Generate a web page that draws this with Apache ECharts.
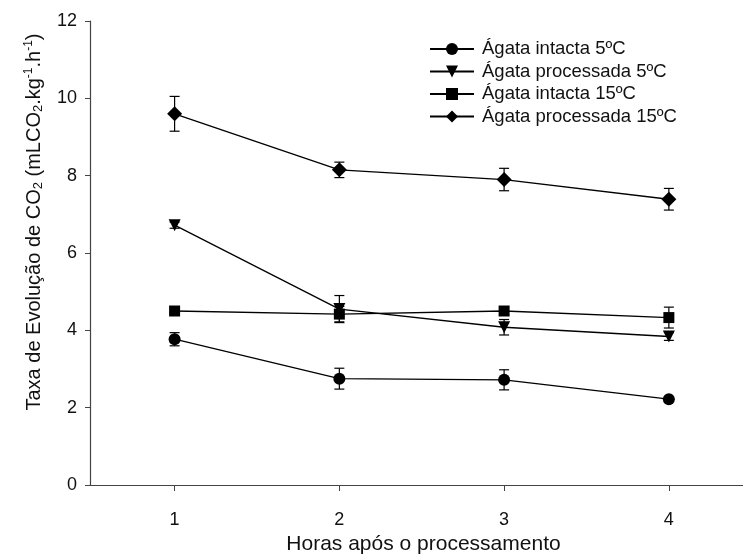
<!DOCTYPE html>
<html>
<head>
<meta charset="utf-8">
<script src="https://cdn.jsdelivr.net/npm/echarts@6/dist/echarts.min.js"></script>
<style>html,body{margin:0;padding:0;background:#fff}#c{width:743px;height:554px}</style>
</head>
<body>
<div id="c"></div>
<script>
const hours = [1, 2, 3, 4];
const xTicks = [1, 2, 3, 4];
const yTicks = [0, 2, 4, 6, 8, 10, 12];
const seriesNames = ['Ágata intacta 5ºC', 'Ágata processada 5ºC', 'Ágata intacta 15ºC', 'Ágata processada 15ºC'];
const intacta5 = [3.77, 2.75, 2.72, 2.22];
const intacta5Err = [0.17, 0.27, 0.26, 0.05];
const processada5 = [6.72, 4.55, 4.08, 3.84];
const processada5Err = [0.08, 0.35, 0.2, 0.1];
const intacta15 = [4.5, 4.42, 4.5, 4.33];
const intacta15Err = [0.05, 0.2, 0.1, 0.27];
const processada15 = [9.6, 8.15, 7.9, 7.39];
const processada15Err = [0.45, 0.2, 0.29, 0.28];

const values = [intacta5, processada5, intacta15, processada15];
const errors = [intacta5Err, processada5Err, intacta15Err, processada15Err];
const symbols = ['circle', 'triangle', 'rect', 'diamond'];
const symbolSizes = [12, 12, 11, 15];
const symbolRot = [0, 180, 0, 0];
const FONT = '"Liberation Sans", Arial, sans-serif';

const chart = echarts.init(document.getElementById('c'), null, {renderer: 'canvas'});

const series = [];
values.forEach((vals, i) => {
  series.push({
    type: 'custom',
    name: seriesNames[i] + ' err',
    silent: true,
    z: 1,
    data: hours.map((h, k) => [h, vals[k] - errors[i][k], vals[k] + errors[i][k]]),
    renderItem: function (params, api) {
      const lo = api.coord([api.value(0), api.value(1)]);
      const hi = api.coord([api.value(0), api.value(2)]);
      const w = 5;
      const st = {stroke: '#000', lineWidth: 1.2};
      return {
        type: 'group',
        children: [
          {type: 'line', shape: {x1: lo[0], y1: lo[1], x2: hi[0], y2: hi[1]}, style: st},
          {type: 'line', shape: {x1: lo[0] - w, y1: lo[1], x2: lo[0] + w, y2: lo[1]}, style: st},
          {type: 'line', shape: {x1: hi[0] - w, y1: hi[1], x2: hi[0] + w, y2: hi[1]}, style: st}
        ]
      };
    }
  });
  series.push({
    type: 'line',
    name: seriesNames[i],
    z: 3,
    data: hours.map((h, k) => [h, vals[k]]),
    symbol: symbols[i],
    symbolSize: symbolSizes[i],
    symbolRotate: symbolRot[i],
    showAllSymbol: true,
    lineStyle: {color: '#000', width: 1.3},
    itemStyle: {color: '#000', borderWidth: 0},
    animation: false
  });
});

chart.setOption({
  animation: false,
  backgroundColor: '#fff',
  textStyle: {fontFamily: FONT},
  grid: {left: 90, right: 0, top: 21, bottom: 69, outerBoundsMode: 'none', containLabel: false},
  legend: {
    data: seriesNames,
    orient: 'vertical',
    left: 429,
    top: 39,
    padding: 0,
    itemWidth: 44,
    itemHeight: 15,
    itemGap: 2.5,
    textStyle: {fontFamily: FONT, fontSize: 18.5, color: '#111', lineHeight: 20, padding: [0, 0, 0, 3]},
    selectedMode: false
  },
  xAxis: {
    type: 'value',
    min: 0.4865,
    max: 4.45,
    splitLine: {show: false},
    axisLine: {lineStyle: {color: '#444', width: 1.2}},
    axisTick: {customValues: xTicks, length: 6, lineStyle: {color: '#444'}},
    axisLabel: {customValues: xTicks, fontSize: 18, color: '#111', margin: 26, fontFamily: FONT},
    name: 'Horas após o processamento',
    nameLocation: 'middle',
    nameGap: 48,
    nameTextStyle: {fontSize: 21, color: '#111', fontFamily: FONT, padding: [0, 0, 0, 14]}
  },
  yAxis: {
    type: 'value',
    min: 0,
    max: 12,
    interval: 2,
    splitLine: {show: false},
    axisLine: {show: true, lineStyle: {color: '#444', width: 1.2}},
    axisTick: {show: true, length: 5, lineStyle: {color: '#444'}},
    axisLabel: {fontSize: 18, color: '#111', margin: 13, fontFamily: FONT,
      formatter: v => yTicks.includes(v) ? String(v) : ''}
  },
  graphic: [{
    type: 'text',
    x: 34,
    y: 222,
    rotation: Math.PI / 2,
    style: {
      text: 'Taxa de Evolução de CO{sub|2} (mLCO{sub|2}.kg{sup|-1}.h{sup|-1})',
      fontFamily: FONT,
      fontSize: 20,
      lineHeight: 22,
      fill: '#111',
      align: 'center',
      verticalAlign: 'middle',
      rich: {
        sub: {fontSize: 13, fontFamily: FONT, fill: '#111', verticalAlign: 'bottom', lineHeight: 22},
        sup: {fontSize: 12, fontFamily: FONT, fill: '#111', verticalAlign: 'top', lineHeight: 22}
      }
    }
  }],
  series: series
});
</script>
</body>
</html>
